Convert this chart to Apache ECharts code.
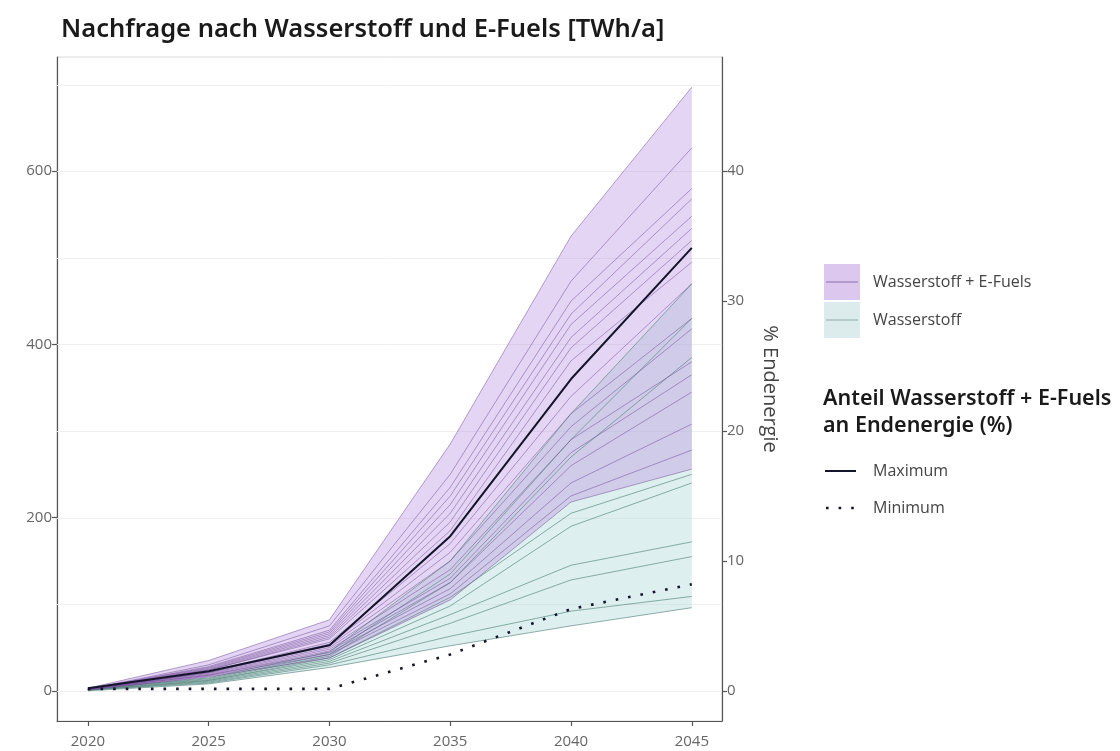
<!DOCTYPE html>
<html><head><meta charset="utf-8">
<script src="https://cdn.jsdelivr.net/npm/echarts@6/dist/echarts.min.js"></script>
<style>html,body{margin:0;padding:0;background:#fff}#c{width:1120px;height:751px}</style>
</head><body><div id="c"></div>
<script>
// ---- data ----
const years = [2020, 2025, 2030, 2035, 2040, 2045];
const xTicks = [2020, 2025, 2030, 2035, 2040, 2045];
const yTicksLeft = [0, 200, 400, 600];
const yTicksRight = [0, 10, 20, 30, 40];
const gridValues = [0, 100, 200, 300, 400, 500, 600, 700];

// Wasserstoff + E-Fuels scenarios [TWh/a]
const efuelScenarios = [
  [3, 35, 82, 285, 525, 697],
  [2, 30, 75, 250, 473, 627],
  [2, 28, 70, 235, 450, 580],
  [2, 27, 68, 225, 435, 568],
  [2, 26, 66, 215, 423, 548],
  [2, 25, 64, 205, 408, 534],
  [2, 24, 62, 195, 396, 520],
  [2, 24, 60, 185, 381, 495],
  [2, 22, 56, 170, 340, 470],
  [2, 21, 54, 160, 320, 430],
  [2, 21, 52, 150, 305, 418],
  [2, 20, 50, 140, 290, 380],
  [2, 19, 48, 130, 275, 365],
  [2, 18, 46, 125, 260, 345],
  [2, 18, 44, 118, 240, 308],
  [1, 17, 42, 112, 225, 278],
  [1, 16, 38, 105, 218, 256]
];
// Wasserstoff scenarios [TWh/a]
const h2Scenarios = [
  [2, 15, 45, 150, 320, 470],
  [2, 14, 42, 135, 290, 430],
  [2, 13, 40, 125, 270, 385],
  [1, 12, 38, 108, 205, 250],
  [1, 12, 36, 98, 190, 240],
  [1, 11, 34, 88, 145, 172],
  [1, 10, 32, 78, 128, 155],
  [1, 9, 30, 63, 92, 109],
  [0, 8, 27, 52, 75, 96]
];
// Anteil Wasserstoff + E-Fuels an Endenergie (%)
const shareMax = [0.2, 1.5, 3.5, 11.9, 24.0, 34.1];
const shareMin = [0.15, 0.15, 0.15, 2.8, 6.3, 8.2];

// ---- helpers ----
const pairs = arr => years.map((y, i) => [y, arr[i]]);
const colMin = sc => years.map((_, i) => Math.min(...sc.map(s => s[i])));
const colMax = sc => years.map((_, i) => Math.max(...sc.map(s => s[i])));

const h2Lo = colMin(h2Scenarios), h2Hi = colMax(h2Scenarios);
const efLo = colMin(efuelScenarios), efHi = colMax(efuelScenarios);

const FONT = '"Open Sans", "Noto Sans", sans-serif';
const series = [];

// faint horizontal gridlines (behind everything)
series.push({
  type: 'custom', silent: true, z: 1, clip: true,
  data: gridValues.map(v => [xTicks[0], v]),
  encode: {x: 0, y: 1},
  renderItem: function (params, api) {
    const cs = params.coordSys;
    const y = Math.round(api.coord([xTicks[0], api.value(1)])[1]) + 0.5;
    return {type: 'line', shape: {x1: cs.x, y1: y, x2: cs.x + cs.width, y2: y},
            style: {stroke: '#efefef', lineWidth: 1}};
  }
});

function band(lo, hi, color) {
  series.push({
    type: 'custom', silent: true, z: 2, clip: true,
    data: years.map((y, i) => [y, lo[i], hi[i]]),
    encode: {x: 0, y: [1, 2]},
    renderItem: function (params, api) {
      if (params.dataIndex !== 0) return;
      const pts = [];
      for (let i = 0; i < years.length; i++) pts.push(api.coord([years[i], hi[i]]));
      for (let i = years.length - 1; i >= 0; i--) pts.push(api.coord([years[i], lo[i]]));
      return {type: 'polygon', shape: {points: pts}, style: {fill: color}};
    }
  });
}
band(h2Lo, h2Hi, 'rgba(175,218,215,0.42)');
band(efLo, efHi, 'rgba(185,145,225,0.38)');

h2Scenarios.forEach(s => series.push({
  type: 'line', data: pairs(s), symbol: 'none', silent: true, z: 3,
  lineStyle: {color: 'rgba(95,140,132,0.7)', width: 1}
}));
efuelScenarios.forEach(s => series.push({
  type: 'line', data: pairs(s), symbol: 'none', silent: true, z: 3,
  lineStyle: {color: 'rgba(112,72,150,0.5)', width: 1}
}));

series.push({
  type: 'line', yAxisIndex: 1, data: pairs(shareMax), symbol: 'none', silent: true, z: 5,
  lineStyle: {color: '#14142a', width: 2}
});
series.push({
  type: 'line', yAxisIndex: 1, data: pairs(shareMin), symbol: 'none', silent: true, z: 5,
  lineStyle: {color: '#14142a', width: 2.6, type: [2.6, 10]}
});

const axisLine = {show: true, onZero: false, lineStyle: {color: '#555', width: 1.2}};
const axisTick = {show: true, length: 5, lineStyle: {color: '#555', width: 1.2}};
const axisLabel = {color: '#666', fontSize: 15, fontWeight: 400, fontFamily: FONT};

const chart = echarts.init(document.getElementById('c'), null, {renderer: 'canvas'});
chart.setOption({
  animation: false,
  backgroundColor: '#fff',
  title: {
    text: 'Nachfrage nach Wasserstoff und E-Fuels [TWh/a]',
    left: 56, top: 12,
    textStyle: {fontSize: 25.5, fontWeight: 600, fontFamily: '"Noto Sans", sans-serif', color: '#1a1a1a'}
  },
  grid: {left: 57, top: 57, width: 665, height: 664, show: true, borderColor: '#d8d8d8', borderWidth: 1, backgroundColor: 'transparent'},
  xAxis: {
    type: 'value', min: 2018.72, max: 2046.25,
    axisLine: axisLine, splitLine: {show: false},
    axisTick: Object.assign({}, axisTick, {customValues: xTicks}),
    axisLabel: Object.assign({}, axisLabel, {customValues: xTicks, margin: 13, formatter: v => String(v)})
  },
  yAxis: [{
    type: 'value', position: 'left', min: -34.85, max: 731.85,
    axisLine: axisLine, splitLine: {show: false},
    axisTick: Object.assign({}, axisTick, {customValues: yTicksLeft}),
    axisLabel: Object.assign({}, axisLabel, {customValues: yTicksLeft, margin: 5, formatter: v => String(v)})
  }, {
    type: 'value', position: 'right', min: -34.85 / 15, max: 731.85 / 15, alignTicks: false,
    name: '% Endenergie', nameLocation: 'middle', nameRotate: -90, nameGap: 38,
    nameTextStyle: {fontSize: 20, color: '#444', fontFamily: FONT},
    axisLine: axisLine, splitLine: {show: false},
    axisTick: Object.assign({}, axisTick, {customValues: yTicksRight}),
    axisLabel: Object.assign({}, axisLabel, {customValues: yTicksRight, margin: 5, formatter: v => String(v)})
  }],
  series: series,
  graphic: [
    {type: 'rect', shape: {x: 824, y: 264, width: 36, height: 36}, style: {fill: '#dcc7ee'}},
    {type: 'line', shape: {x1: 826, y1: 282, x2: 858, y2: 282}, style: {stroke: '#9a7cb8', lineWidth: 1.2}},
    {type: 'rect', shape: {x: 824, y: 302, width: 36, height: 36}, style: {fill: '#dcebeb'}},
    {type: 'line', shape: {x1: 826, y1: 320, x2: 858, y2: 320}, style: {stroke: '#9db4b2', lineWidth: 1.2}},
    {type: 'text', x: 873, y: 282, style: {text: 'Wasserstoff + E-Fuels', fill: '#444', font: '400 16px ' + FONT, textVerticalAlign: 'middle'}},
    {type: 'text', x: 873, y: 320, style: {text: 'Wasserstoff', fill: '#444', font: '400 16px ' + FONT, textVerticalAlign: 'middle'}},
    {type: 'text', x: 823, y: 399, style: {text: 'Anteil Wasserstoff + E-Fuels', fill: '#1a1a1a', font: '600 21.5px "Noto Sans", sans-serif', textVerticalAlign: 'middle'}},
    {type: 'text', x: 823, y: 426, style: {text: 'an Endenergie (%)', fill: '#1a1a1a', font: '600 21.5px "Noto Sans", sans-serif', textVerticalAlign: 'middle'}},
    {type: 'line', shape: {x1: 825, y1: 471, x2: 856, y2: 471}, style: {stroke: '#14142a', lineWidth: 2}},
    {type: 'line', shape: {x1: 826, y1: 508, x2: 860, y2: 508}, style: {stroke: '#14142a', lineWidth: 2.6, lineDash: [2.6, 10]}},
    {type: 'text', x: 873, y: 471, style: {text: 'Maximum', fill: '#444', font: '400 16px ' + FONT, textVerticalAlign: 'middle'}},
    {type: 'text', x: 873, y: 508, style: {text: 'Minimum', fill: '#444', font: '400 16px ' + FONT, textVerticalAlign: 'middle'}}
  ]
});
</script>
</body></html>
